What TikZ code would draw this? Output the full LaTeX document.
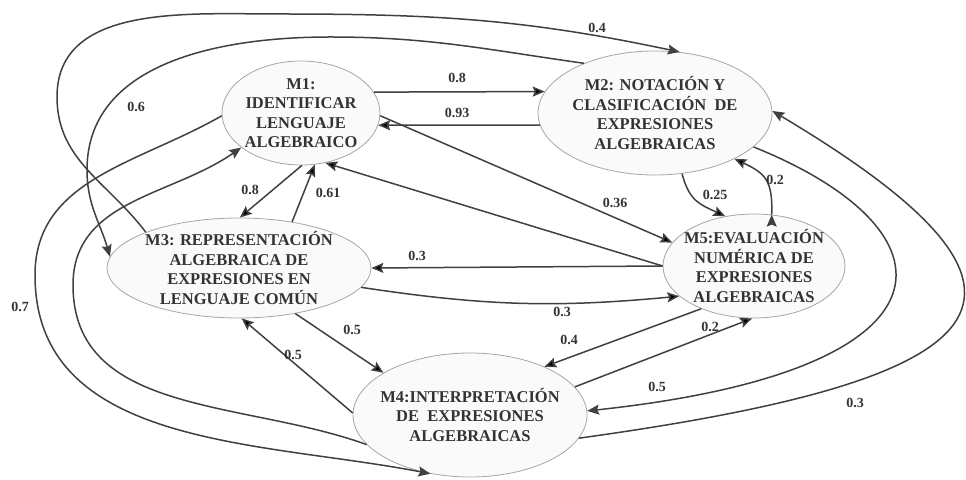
\documentclass[tikz,border=0pt]{standalone}
\usepackage{fontspec}
\setmainfont{Liberation Serif}
\usepackage{xcolor}
\usepackage{tikz}
\usetikzlibrary{shapes.geometric,arrows.meta}

\begin{document}
\begin{tikzpicture}
      [ x=1pt, y=1pt
      , modulo/.style={ellipse, draw=gray!70, fill=gray!4, line width=0.8pt,
          inner sep=-20pt, align=center, text=black!80,
          font=\fontsize{16.5}{19.5}\selectfont\bfseries}
      , link/.style={draw=black!75, line width=1.5pt,
          -{Stealth[length=12pt,width=10pt,inset=2pt]}}
      , peso/.style={text=black!80, font=\fontsize{14}{16}\selectfont\bfseries}
      ]
    \useasboundingbox (0,0) rectangle (966,479);

    \node[modulo, minimum width=158pt, minimum height=104pt] (M1) at (301,366)
      {M1:\\IDENTIFICAR\\LENGUAJE\\ALGEBRAICO};
    \node[modulo, minimum width=234pt, minimum height=124pt] (M2) at (655,366)
      {M2: NOTACIÓN Y\\CLASIFICACIÓN\ \ DE\\EXPRESIONES\\ALGEBRAICAS};
    \node[modulo, minimum width=264pt, minimum height=100pt] (M3) at (239,211)
      {M3: REPRESENTACIÓN\\ALGEBRAICA DE\\EXPRESIONES EN\\LENGUAJE COMÚN};
    \node[modulo, minimum width=182pt, minimum height=104pt] (M5) at (754,213)
      {M5:EVALUACIÓN\\NUMÉRICA DE\\EXPRESIONES\\ALGEBRAICAS};
    \node[modulo, minimum width=234pt, minimum height=124pt] (M4) at (470,64)
      {M4:INTERPRETACIÓN\\DE\ \ EXPRESIONES\\ALGEBRAICAS};

    \draw[link]
    (M1.16) edge (M2.169)
    (M2.186) edge (M1.-9)

    (M1.-89) edge (M3.89)
    (M3.41) edge (M1.-75)

    (M1.-2) edge (M5.164)
    (M5.west) edge (M1.-64)

    (M5.west) edge (M3.east)
    (M3.-9) edge[bend right=7] (M5.202)

    (M3.-39) edge (M4.154)
    (M4.179) edge (M3.-87)

    (M5.219) edge (M4.33)
    (M4.15) edge (M5.-92)

    (M2.-66) edge[out=-75, in=155, looseness=1.2] (M5.120)
    (M5.71) edge[out=88, in=-25, looseness=1.3] (M2.-30);

    \draw[link] (M2.-19) .. controls (960,249) and (970,109) .. (M4.2);
    \draw[link] (M4.-12) .. controls (1000,99) and (1090,179) .. (M2.1);

    \draw[link] (M3.159) to[out=127, in=-90] (57,382)
      to[out=90, in=180] (280,465) to[out=0, in=168] (M2.68);
    \draw[link] (M2.145) to[out=172, in=0] (330,442)
      to[out=180, in=90] (87,309) to[out=-90, in=106] (M3.175);

    \draw[link] (M1.182) to[out=210, in=90] (35,204)
      to[out=-90, in=169] (M4.-124);
    \draw[link] (M4.196) to[out=160, in=-90] (73,194)
      to[out=90, in=-145] (M1.210);

    \node[peso] (p12) at (457,401) {0.8};
    \node[peso] (p21) at (457,366) {0.93};
    \node[peso] (p13) at (250,289) {0.8};
    \node[peso] (p31) at (328,286) {0.61};
    \node[peso] (p15) at (615,276) {0.36};
    \node[peso] (p53) at (417,223) {0.3};
    \node[peso] (p35) at (562,167) {0.3};
    \node[peso] (p34) at (352,149) {0.5};
    \node[peso] (p43) at (293,124) {0.5};
    \node[peso] (p54) at (569,139) {0.4};
    \node[peso] (p45) at (710,152) {0.2};
    \node[peso] (p25) at (715,284) {0.25};
    \node[peso] (p52) at (775,299) {0.2};
    \node[peso] (p24) at (657,92) {0.5};
    \node[peso] (p42) at (855,76) {0.3};
    \node[peso] (p32) at (597,451) {0.4};
    \node[peso] (p23) at (136,372) {0.6};
    \node[peso] (p14) at (20,172) {0.7};

  \end{tikzpicture}
\end{document}
